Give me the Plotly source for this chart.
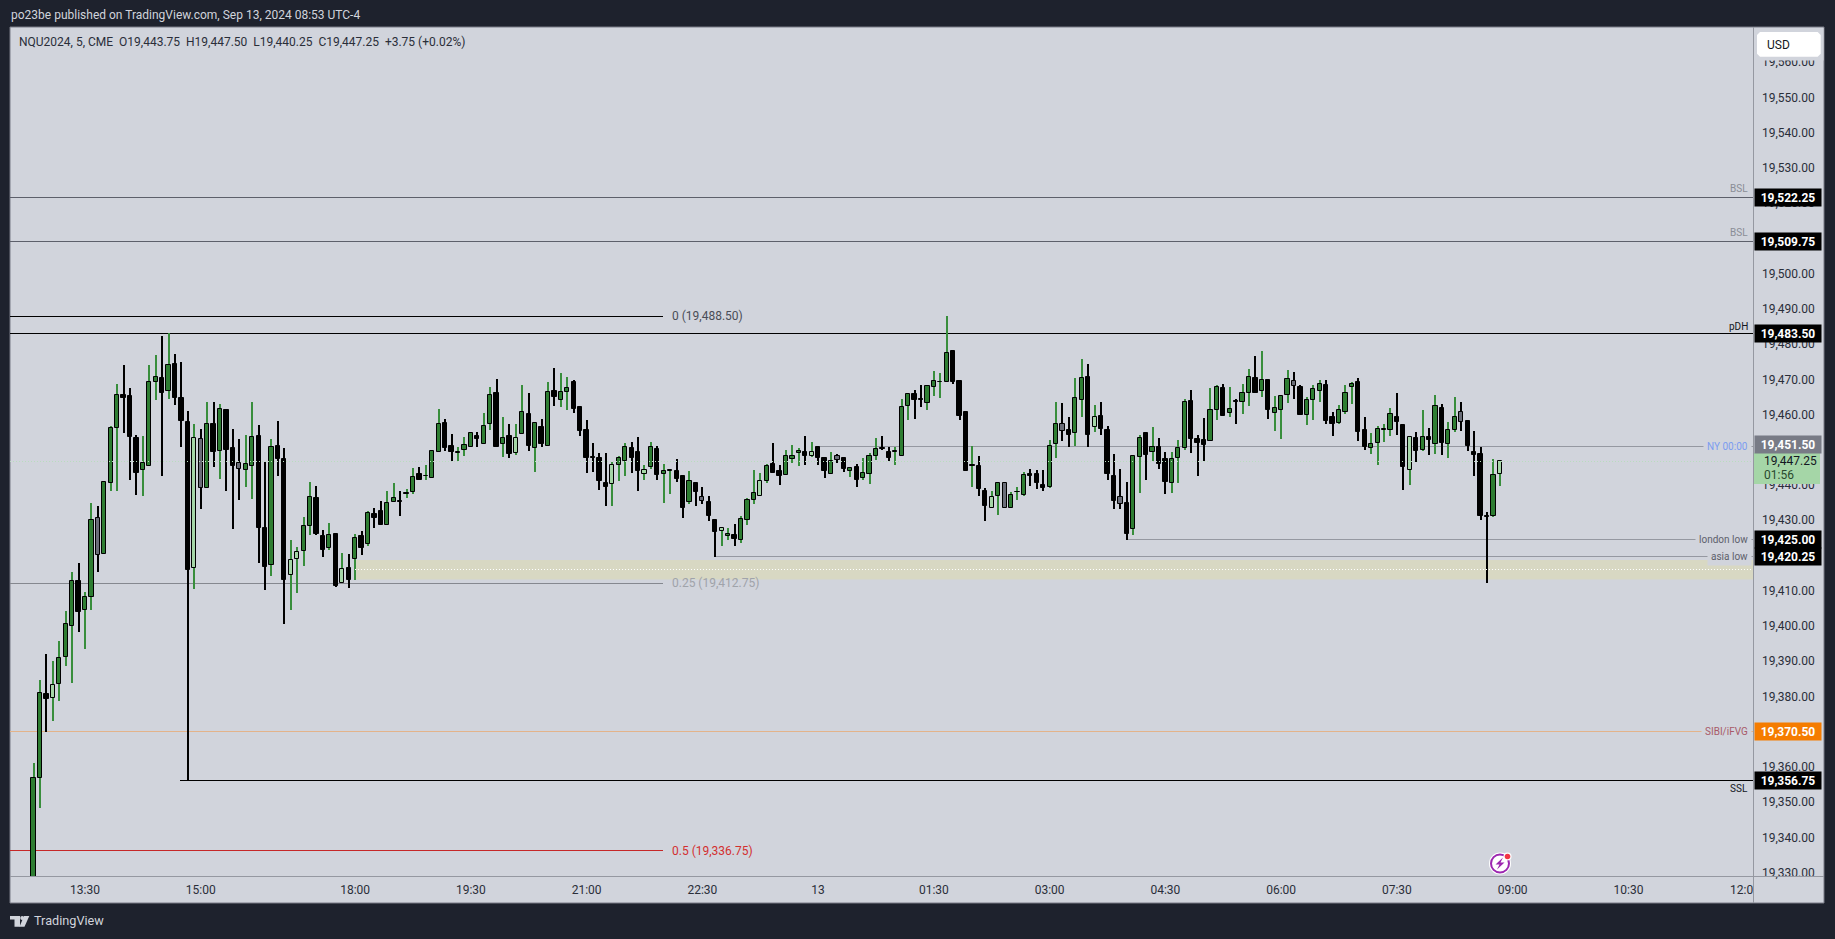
import plotly.graph_objects as go

# ---------- data ----------
body_top = [
19357.5,19381.5,19381.25,19383.75,19391.5,19401.25,19413.25,19413.25,19408.75,19430.75,
19431.25,19441.5,19456.75,19466,19466.25,19465.75,19454,19446.75,19469.75,19471.25,
19471,19474.75,19475,19465.25,19458.5,19454,19453.75,19458,19458,19462.25,
19461.75,19451,19446.75,19446.5,19454.25,19454.5,19428.25,19451.5,19451.75,19448,
19419.25,19421.5,19429,19437.25,19437,19426,19426.25,19426.75,19416.75,19417,
19425.5,19426,19432.75,19432.25,19433.25,19435.5,19436.75,19435.75,19438,19442.75,
19443.75,19443,19450.25,19457.75,19458.25,19451.75,19449.75,19452,19455.25,19454.5,
19457.25,19466,19466.75,19454,19454.5,19454,19461.25,19460.75,19458.25,19457,
19467,19467.25,19467,19468,19469.75,19462.75,19456.25,19448.25,19448.25,19441,
19446.25,19448.25,19451.25,19451,19450,19444.75,19451.25,19450.75,19444.5,19444.5,
19444.5,19443,19441.75,19441.25,19437.25,19435.75,19430.75,19428.25,19426.75,19426.25,
19431,19436.25,19438.25,19441.75,19446,19446.5,19444.5,19448.75,19448.75,19450.25,
19450,19450,19451.5,19448.25,19447.25,19448.75,19448.25,19445.5,19445.75,19444,
19448.75,19450.75,19450.75,19450,19450,19462.75,19466.5,19466.5,19464.75,19468.75,
19470,19469.75,19478,19478.5,19470,19461.25,19446,19446,19438.75,19437.25,
19441,19441.25,19437.75,19438.5,19443.5,19443.75,19443.75,19440.5,19451.75,19458,
19458,19456.25,19465.25,19471,19471.25,19459.75,19460.25,19456.25,19443,19437.25,
19435.5,19448.75,19454,19455.25,19451.5,19451.5,19448,19448,19451,19464.25,
19464.5,19453.75,19453.25,19462,19468.5,19468,19462.25,19464.25,19466.75,19471.25,
19471,19470.25,19470.25,19462.5,19465.75,19470.75,19470,19468.5,19464.75,19467.75,
19469.25,19469,19459.75,19462,19466.75,19469.25,19469.75,19456.25,19452.25,19456.5,
19456.25,19460.75,19459.75,19457.5,19454.25,19454,19454.25,19454.25,19463,19462.5,
19456.25,19460,19461.25,19458.75,19450,19449.5,19431.5,19443.5,19447.25]

body_bottom = [
19325,19357.5,19379.75,19380,19384,19391.75,19400.5,19404.5,19405,19408.75,
19420.75,19421,19441.25,19456.75,19465.25,19454.25,19444,19444.75,19446,19469.75,
19466.75,19467.25,19465.25,19458.75,19416.5,19417,19439.75,19439.75,19450,19450.25,
19450.5,19446,19445.25,19444.75,19446,19428.5,19417.25,19417.75,19448,19413.5,
19415,19419.5,19421.75,19429,19426.75,19422.25,19422.75,19412,19412.75,19413.5,
19419.5,19422.75,19423.75,19431.25,19429.25,19429.25,19435.75,19435.75,19438,19438.5,
19442,19443,19442.5,19450,19451,19450,19449.75,19450.5,19451.25,19453.5,
19452.25,19458,19451.5,19452.25,19449.5,19449.75,19455,19451.75,19451,19452.25,
19451.75,19465.5,19464.75,19467,19462.25,19456,19448.25,19448.25,19441.75,19440,
19440.75,19446.25,19447.5,19448.25,19444.5,19443.75,19445.75,19443.5,19443.75,19444.5,
19442.25,19434,19435.75,19438.5,19436,19431.75,19427.25,19427.5,19426,19425.25,
19425,19430.75,19436.25,19437.5,19441.75,19444,19443.25,19443.5,19448,19449.75,
19448.75,19448.75,19448.25,19444.5,19443.75,19447.75,19445.25,19444.5,19442,19442.5,
19443.75,19448.75,19450.75,19448.25,19450,19448.75,19463,19464.75,19464.75,19463.75,
19468.25,19469.75,19469.75,19469.75,19460.25,19444.5,19446,19439.5,19434.5,19434,
19437.5,19434,19434,19438.5,19437.75,19443.25,19441,19439.75,19440,19452.25,
19456,19454.75,19455.25,19464.75,19454.75,19457,19456.5,19443.75,19436,19435.25,
19426.75,19428,19448.5,19449,19450,19446.5,19441.5,19441,19448.25,19451,
19453.75,19452.5,19452,19453,19462,19460.25,19461,19464.25,19464.25,19466.75,
19466.75,19467.25,19461.75,19461,19462,19466,19468.75,19460.5,19460.5,19464.75,
19467.25,19458.75,19457.75,19458.25,19461.25,19468.5,19455.75,19451.5,19451,19452.5,
19456.25,19456.25,19458.5,19445.75,19444.75,19450.25,19450.5,19453.25,19452.25,19452.5,
19452.25,19456.25,19458.5,19451.75,19449,19431.75,19431.5,19431.75,19443.75]

highs = [
19361.75,19385.25,19392.5,19390.5,19396.25,19404.75,19415.75,19418.5,19410.25,19435.5,
19434.75,19441.5,19457.25,19469.25,19474.5,19468,19454.75,19454.5,19474.75,19477.5,
19483,19483.75,19477.75,19475.5,19461.5,19457.75,19456.5,19464,19464.25,19463.5,
19462,19456.5,19453.5,19454.75,19464.25,19457.5,19447,19453.75,19458.75,19451,
19425,19423,19431.5,19441.5,19440.25,19427.75,19429.75,19426.75,19421.25,19421,
19426.75,19427.5,19433.25,19434,19436,19438.75,19441.25,19438.75,19439.5,19445.5,
19445.75,19446.25,19450.5,19462.25,19459.25,19455,19451.5,19454.25,19455.25,19455.5,
19461,19468.25,19470.75,19459.75,19457.75,19457.75,19469,19466.75,19458.25,19459.25,
19469.75,19473.75,19472.25,19471.25,19470.25,19462.75,19459,19452.5,19449.75,19449.75,
19447,19448.75,19452.5,19452.75,19454.25,19446.25,19452.75,19451.75,19446.5,19445.25,
19448,19443,19444.5,19441.25,19440,19437.5,19430.75,19428.25,19428.25,19429.5,
19431.75,19436.75,19444.75,19444,19446.5,19452.5,19446.25,19450.5,19452,19451,
19454.5,19452.75,19451.5,19448.25,19450,19449.25,19448.5,19445.5,19446.5,19448.25,
19449.75,19454,19454.5,19451.25,19451.25,19465,19466.5,19467.5,19469,19468.75,
19473,19472.25,19488.5,19479,19470,19461.25,19451.75,19448.75,19439.75,19438.75,
19441.5,19441.25,19438.5,19440,19444.25,19445,19444.75,19444.75,19453.25,19464,
19463.75,19459.75,19471,19476.25,19475,19463.25,19464,19457.25,19449.25,19445.25,
19441.5,19448.75,19454.75,19455.25,19457,19454,19450,19450,19453.25,19465,
19467.5,19454.75,19459.5,19468,19469,19469.25,19468.25,19465,19469.25,19473.5,
19477.25,19478.5,19470.5,19465.75,19466.25,19473.25,19472.75,19469,19465.5,19469,
19470.25,19470.25,19461.25,19463.25,19469,19469.75,19471,19459.75,19455.25,19457.25,
19457.75,19462.5,19466.75,19457.75,19454.25,19455.5,19462,19456.75,19466,19463.5,
19458.5,19465.5,19464,19458.75,19456,19451.5,19433,19448,19447.5]

lows = [
19320,19349,19370.5,19373.5,19379.25,19389.25,19384.5,19398.75,19394,19405,
19415.75,19421,19438.75,19438.75,19455.25,19442,19437.75,19437.5,19446,19464.75,
19443.25,19465,19463.25,19451.5,19356.75,19411,19433.75,19439.75,19445.75,19442.25,
19438.75,19428,19436.25,19440,19436.5,19418.5,19410.75,19414.75,19443.25,19401.25,
19405,19410,19417.5,19426.25,19426.25,19420,19422.25,19411.75,19412.75,19411.25,
19413.5,19420.75,19423.25,19428.5,19429.25,19429.25,19435.75,19431.75,19437,19438,
19442,19442,19442.5,19450,19450.25,19447.5,19447.5,19448.75,19451.25,19451.25,
19452.25,19456.25,19451.5,19448.5,19448.25,19449,19455,19450.25,19444.25,19451.25,
19451.75,19463,19462.75,19462,19461,19454.5,19444,19444.25,19439.25,19434.5,
19434.75,19441.75,19443,19444,19438.75,19442,19445.25,19442,19435.5,19438,
19441.5,19431.25,19435.25,19434.75,19435.25,19430.25,19420.25,19423.25,19425,19423.25,
19424.25,19429.25,19435.25,19437.5,19441,19444,19440.5,19443.5,19446.75,19446,
19446.25,19448.5,19446.25,19442.5,19443.75,19446.75,19444.25,19442.75,19440,19442,
19440.75,19447.75,19450.5,19447.25,19446.25,19448.75,19459,19459.25,19462.75,19462,
19465.75,19465.25,19469.75,19469.25,19459,19444.5,19440,19437.5,19430.25,19434,
19432,19434,19434,19436.25,19437.5,19440.25,19439.5,19438.75,19439.75,19448.25,
19453,19451.25,19451.75,19460,19451.25,19455.75,19454.75,19442,19433.75,19433.75,
19425,19426.5,19438.25,19442,19447.25,19445.25,19438,19438.25,19441.25,19450.5,
19449.75,19443,19447.25,19453,19459,19460.25,19459.75,19457.75,19460.75,19463,
19466.75,19465.5,19459.25,19456,19453.5,19463.75,19465,19460.5,19457.5,19459,
19464,19458,19454.5,19457.75,19460.75,19463.5,19453,19450.5,19449.25,19446.25,
19452.75,19454.5,19454.75,19439.25,19440.5,19447,19450.25,19449,19449.25,19449,
19448.25,19455.75,19456,19450.25,19443.25,19430.75,19412.75,19431.5,19440.25]

# g = up, k = down, l = pale up, y = grey
candle_state = ("ggklgggkgg" "ygggkkkggg" "kgkkklygkg" "kkyggkkgkk" "llggkkgklk"
                "gkgkkggkgg" "kgggkkgggk" "ggkgklgkgk" "gkggkkkkkk" "lggkklgkgg"
                "kkgkykklgk" "ggglgkkggg" "klkkgykgkg" "ggkkgggkkg" "gggkkkgkkl"
                "gygggkkkgg" "ykggklkkky" "kggkgkkggg" "kkkggkgkgg" "kgkgggykgg"
                "gkkgggkkgg" "ggkklkgkgk" "ggykkkkgl")

time_tick_bars = [8, 26, 50, 68, 86, 104, 122, 140, 158, 176, 194, 212, 230, 248, 265.6]
time_tick_text = ["13:30", "15:00", "18:00", "19:30", "21:00", "22:30", "13", "01:30",
                  "03:00", "04:30", "06:00", "07:30", "09:00", "10:30", "12:0"]
price_ticks = [19330, 19340, 19350, 19360, 19370, 19380, 19390, 19400, 19410, 19420, 19430, 19440,
               19450, 19460, 19470, 19480, 19490, 19500, 19510, 19520, 19530, 19540, 19550, 19560]

bsl_levels = [19522.25, 19509.75]
pdh_level = 19483.5
ny_open_level = 19451.5
last_price = 19447.25
london_low = 19425.0
asia_low = 19420.25
sibi_level = 19370.5
ssl_level = 19356.75
fib_levels = {"0": 19488.5, "0.25": 19412.75, "0.5": 19336.75}
zone_top, zone_mid, zone_bottom = 19419.25, 19416.5, 19413.75
start_bars = {"ssl": 22.8, "zone": 50, "asia": 106, "ny": 122, "london": 170}

# ---------- styling / geometry ----------
W, H = 1835, 939
PL, PR, PT, PB = 10, 1753, 27, 876      # plot rectangle in pixels
XR = [-3.66, 267.37]
YR = [19329.59, 19570.57]
BG, DARK = "#d1d4dc", "#1e222d"
FONT = "Roboto, 'Liberation Sans', sans-serif"
BODY = {"g": "#2e7d32", "k": "#000000", "l": "#a5d6a7", "y": "#6a6d78"}
WICK = {"g": "#388e3c", "k": "#000000", "l": "#388e3c", "y": "#000000"}

def fx(px): return (px - PL) / (PR - PL)
def fy(py): return (PB - py) / (PB - PT)

def path(points):
    return "M" + " L".join(f"{fx(a):.5f},{fy(b):.5f}" for a, b in points) + " Z"

n = len(body_top)
idx = list(range(n))
body_h = [max(t - b, 0.2) for t, b in zip(body_top, body_bottom)]
wick_h = [h - l for h, l in zip(highs, lows)]

fig = go.Figure()
fig.add_bar(x=idx, base=lows, y=wick_h, width=0.16,
            marker=dict(color=[WICK[s] for s in candle_state], line_width=0), hoverinfo="skip")
fig.add_bar(x=idx, base=body_bottom, y=body_h, width=0.66,
            marker=dict(color=[BODY[s] for s in candle_state], line=dict(color="#000000", width=1)),
            hoverinfo="skip")

shapes = []
def rect_px(x0, y0, x1, y1, **kw):
    shapes.append(dict(type="rect", xref="paper", yref="paper", x0=fx(x0), x1=fx(x1),
                       y0=fy(y0), y1=fy(y1), **kw))
def hline(y, x0, x1, color, width=1, dash="solid", layer="below"):
    shapes.append(dict(type="line", xref="x", yref="y", x0=x0, x1=x1, y0=y, y1=y,
                       line=dict(color=color, width=width, dash=dash), layer=layer))

# chart frame
rect_px(10, 27, 1824, 903, fillcolor=BG, line=dict(color="#787b86", width=1), layer="below")
# session zone
shapes.append(dict(type="rect", xref="x", yref="y", x0=start_bars["zone"], x1=XR[1],
                   y0=zone_bottom, y1=zone_top, fillcolor="#d8d8c3", line_width=0, layer="below"))
for lv in bsl_levels:
    hline(lv, XR[0], XR[1], "#5d606b")
hline(pdh_level, XR[0], XR[1], "#000000", 1)
hline(ny_open_level, start_bars["ny"], XR[1], "#9598a1")
hline(london_low, start_bars["london"], XR[1], "#9598a1")
hline(asia_low, start_bars["asia"], XR[1], "#9598a1")
hline(sibi_level, XR[0], XR[1], "#e3b38a")
hline(ssl_level, start_bars["ssl"], XR[1], "#000000", 1)
FIB_END = (663.4 - 33.55) / 6.431
hline(fib_levels["0"], XR[0], FIB_END, "#000000")
hline(fib_levels["0.25"], XR[0], FIB_END, "#85888f")
hline(fib_levels["0.5"], XR[0], FIB_END, "#c62828")
hline(last_price, XR[0], XR[1], "#b9dcbe", 1, "1px,2px", "above")
hline(zone_mid, start_bars["zone"], XR[1], "#ffffff", 1, "1px,2px", "above")

# axis borders
shapes.append(dict(type="line", xref="paper", yref="paper", x0=fx(1753.5), x1=fx(1753.5), y0=fy(27), y1=fy(903),
                   line=dict(color="#9598a1", width=1), layer="above"))
shapes.append(dict(type="line", xref="paper", yref="paper", x0=fx(10), x1=fx(1824), y0=fy(876.5), y1=fy(876.5),
                   line=dict(color="#9598a1", width=1), layer="above"))

# corner of the price scale with the currency button
rect_px(1754, 28, 1823.5, 60.5, fillcolor=BG, line_width=0, layer="above")
R = 3
x0, x1, y0, y1 = 1757, 1820.7, 32, 56.7
shapes.append(dict(type="path", xref="paper", yref="paper", layer="above", fillcolor="#ffffff", line_width=0,
                   path=path([(x0 + R, y0), (x1 - R, y0), (x1, y0 + R), (x1, y1 - R),
                              (x1 - R, y1), (x0 + R, y1), (x0, y1 - R), (x0, y0 + R)])))
# last price box
rect_px(1754, 452.7, 1820, 484, fillcolor="#a5d6a7", line_width=0, layer="above")

# flash icon
def circle(cx, cy, r, **kw):
    rect = dict(type="circle", xref="paper", yref="paper", x0=fx(cx - r), x1=fx(cx + r),
                y0=fy(cy - r), y1=fy(cy + r), layer="above", **kw)
    shapes.append(rect)
circle(1500, 863.5, 11, fillcolor="#ffffff", line_width=0)
circle(1500, 863.5, 9, fillcolor="#ffffff", line=dict(color="#9c27b0", width=2))
shapes.append(dict(type="path", xref="paper", yref="paper", layer="above", fillcolor="#9c27b0", line_width=0,
                   path=path([(1503, 857.5), (1495.5, 864.5), (1499.5, 864.5), (1497, 869.5),
                              (1504.5, 862.5), (1500.5, 862.5)])))
circle(1507.5, 856.5, 4, fillcolor="#ffffff", line_width=0)
circle(1507.5, 856.5, 2.8, fillcolor="#f23645", line_width=0)

# TradingView logo
LOGO = "#d1d4dc"
for pts in ([(10, 916), (20, 916), (20, 926.7), (14.5, 926.7), (14.5, 919.5), (10, 919.5)],
            [(24, 916), (29.3, 916), (24.5, 926.7), (19.5, 926.7)]):
    shapes.append(dict(type="path", xref="paper", yref="paper", fillcolor=LOGO, line_width=0,
                       path=path(pts), layer="above"))
circle(22.2, 918, 2, fillcolor=LOGO, line_width=0)

ann = []
def text_px(px, py, t, color, size=12, xanchor="left", **kw):
    ann.append(dict(xref="paper", yref="paper", x=fx(px), y=fy(py), text=t, showarrow=False,
                    xanchor=xanchor, yanchor="middle", font=dict(color=color, size=size, family=FONT),
                    borderpad=0, **kw))
def badge(y, t, bg, fg="#ffffff", height=17, bold=True, yshift=0):
    ann.append(dict(xref="paper", yref="y", x=fx(1754), y=y, yshift=yshift, text=f"<b>{t}</b>" if bold else t,
                    showarrow=False, xanchor="left", yanchor="middle", width=66, height=height, bgcolor=bg,
                    align="center", font=dict(color=fg, size=12, family=FONT), borderpad=0))
def right_label(y, t, color, yshift=0, cover=False):
    kw = dict(bgcolor=BG, borderpad=3) if cover else dict(borderpad=0)
    ann.append(dict(xref="paper", yref="y", x=fx(1752 if cover else 1749), y=y, yshift=yshift, text=t, showarrow=False,
                    xanchor="right", yanchor="middle", font=dict(color=color, size=10, family=FONT), **kw))
def fib_label(y, t, color):
    ann.append(dict(xref="paper", yref="y", x=fx(671), y=y, text=t, showarrow=False, xanchor="left",
                    yanchor="middle", font=dict(color=color, size=12, family=FONT), borderpad=0))

text_px(10, 15, "po23be published on TradingView.com, Sep 13, 2024 08:53 UTC-4", "#d1d4dc", 12)
text_px(18, 42, "NQU2024, 5, CME&nbsp;&nbsp;O19,443.75&nbsp;&nbsp;H19,447.50&nbsp;&nbsp;L19,440.25&nbsp;&nbsp;C19,447.25&nbsp;&nbsp;+3.75 (+0.02%)", "#2a2e39", 12)
text_px(33, 921, "TradingView", "#d1d4dc", 12.7)
text_px(1766, 44.5, "USD", "#131722", 12)

for lv in bsl_levels:
    right_label(lv, "BSL", "#8a8d96", yshift=9)
right_label(pdh_level, "pDH", "#131722", yshift=7.5)
right_label(ny_open_level, "NY 00:00", "#7b9cf0", cover=True)
right_label(london_low, "london low", "#5d606b", cover=True)
right_label(asia_low, "asia low", "#5d606b", cover=True)
right_label(sibi_level, "SIBI/iFVG", "#a85a68", cover=True)
right_label(ssl_level, "SSL", "#131722", yshift=-8)

fib_label(fib_levels["0"], "0 (19,488.50)", "#4a4d57")
fib_label(fib_levels["0.25"], "0.25 (19,412.75)", "#a0a3aa")
fib_label(fib_levels["0.5"], "0.5 (19,336.75)", "#d32f2f")

for lv in bsl_levels + [pdh_level, london_low, asia_low, ssl_level]:
    badge(lv, f"{lv:,.2f}", "#000000")
badge(sibi_level, f"{sibi_level:,.2f}", "#f57c00")
badge(ny_open_level, f"{ny_open_level:,.2f}", "#787b86", yshift=2)
text_px(1762.7, 460.7, f"{last_price:,.2f}", "#131722", 12)
text_px(1762.7, 475, "01:56", "#2a4a2e", 12)

fig.update_layout(
    width=W, height=H, autosize=False, showlegend=False, barmode="overlay", bargap=0,
    margin=dict(l=PL, r=W - PR, t=PT, b=H - PB, pad=0),
    paper_bgcolor=DARK, plot_bgcolor=BG, shapes=shapes, annotations=ann,
    xaxis=dict(range=XR, tickmode="array", tickvals=time_tick_bars, ticktext=time_tick_text,
               showgrid=False, zeroline=False, ticks="", ticklabelstandoff=5,
               tickfont=dict(size=12, color="#2a2e39", family=FONT), showline=False, fixedrange=True),
    yaxis=dict(range=YR, side="right", tickmode="array", tickvals=price_ticks, tickformat=",.2f",
               showgrid=False, zeroline=False, ticks="", ticklabelstandoff=8,
               tickfont=dict(size=12, color="#2a2e39", family=FONT), showline=False, fixedrange=True),
    hovermode=False,
)

CSS = ".shapelayer path:not([d*='Z']):not([d*='A']){shape-rendering:crispEdges}" \
      ".yaxislayer-above{transform:translateY(-2px)}"
fig.write_html("out.html", config={"displayModeBar": False},
               post_script="document.body.style.margin='0';document.body.style.overflow='hidden';"
                           "var s=document.createElement('style');s.textContent=\"" + CSS + "\";"
                           "document.head.appendChild(s);")
